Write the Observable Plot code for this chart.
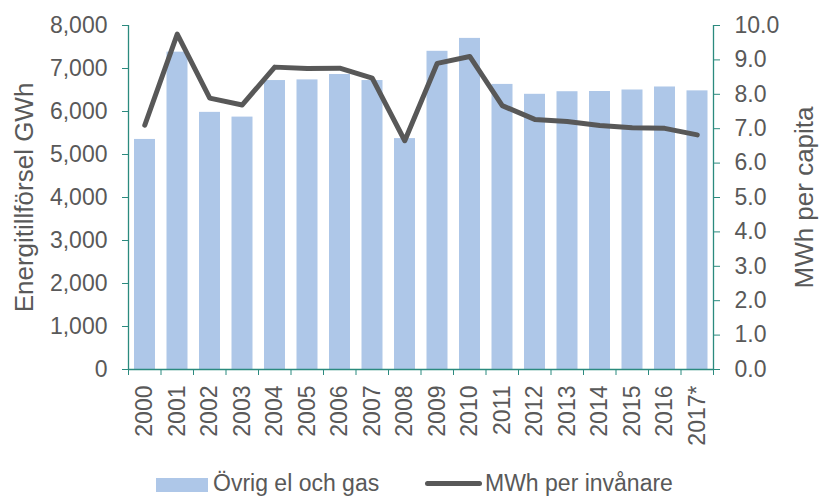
<!DOCTYPE html>
<html>
<head>
<meta charset="utf-8">
<script src="https://cdn.jsdelivr.net/npm/d3@7"></script>
<script src="https://cdn.jsdelivr.net/npm/@observablehq/plot@0.6"></script>
<style>
  html, body { margin: 0; padding: 0; background: #fff; overflow: hidden; }
  #wrap { position: relative; width: 823px; height: 496px; font-family: "Liberation Sans", Arial, sans-serif; color: #595959; }
  #chart svg { display: block; }
  .leg { position: absolute; font-size: 23px; line-height: 23px; white-space: nowrap; }
  .sw { position: absolute; }
</style>
</head>
<body>
<div id="wrap">
  <div id="chart"></div>
  <div class="sw" id="sw1" style="left:156px; top:478px; width:52px; height:14px; background:#aec7e8;"></div>
  <div class="leg" id="lg1" style="left:213px; top:472px;"></div>
  <div class="sw" id="sw2" style="left:425px; top:481px; width:57px; height:5px; background:#585858; border-radius:3px;"></div>
  <div class="leg" id="lg2" style="left:485px; top:472px;"></div>
</div>
<script>
const years = ["2000","2001","2002","2003","2004","2005","2006","2007","2008","2009","2010","2011","2012","2013","2014","2015","2016","2017*"];
const gwh = [5350, 7380, 5980, 5870, 6720, 6735, 6860, 6720, 5370, 7400, 7700, 6630, 6400, 6460, 6465, 6500, 6570, 6480];
const mwh = [7.10, 9.75, 7.89, 7.69, 8.79, 8.75, 8.76, 8.47, 6.65, 8.90, 9.10, 7.67, 7.27, 7.21, 7.09, 7.03, 7.01, 6.82];
const leftTicks = [0, 1000, 2000, 3000, 4000, 5000, 6000, 7000, 8000];
const rightTicks = [0, 1, 2, 3, 4, 5, 6, 7, 8, 9, 10];
const seriesNames = ["Övrig el och gas", "MWh per invånare"];
const axisTitles = ["Energitillförsel GWh", "MWh per capita"];

const ratio = 800; // 10.0 MWh on right axis == 8000 GWh on left axis
const data = years.map((y, i) => ({i, year: y, gwh: gwh[i], mwh: mwh[i]}));
const teal = "#2b8a7e";
const grey = "#595959";

const chart = Plot.plot({
  width: 823,
  height: 462,
  marginLeft: 128,
  marginRight: 110,
  marginTop: 25,
  marginBottom: 93,
  x: {domain: [0, years.length]},
  y: {domain: [0, 8000]},
  style: {fontFamily: "'Liberation Sans', Arial, sans-serif", color: grey, background: "white"},
  marks: [
    Plot.rect(data, {x1: d => d.i, x2: d => d.i + 1, y1: () => 0, y2: "gwh", fill: "#aec7e8", insetLeft: 6, insetRight: 5.5}),
    Plot.ruleX([0, years.length], {stroke: teal, strokeWidth: 1.3}),
    Plot.ruleY([0], {stroke: teal, strokeWidth: 1.5}),
    Plot.axisY(leftTicks, {anchor: "left", tickSize: 6, tickPadding: 15, stroke: teal, fill: grey, fontSize: 23, tickFormat: d3.format(","), label: null}),
    Plot.axisY(rightTicks.map(v => v * ratio), {anchor: "right", tickSize: 6, tickPadding: 15, stroke: teal, fill: grey, fontSize: 23, tickFormat: d => (d / ratio).toFixed(1), label: null}),
    Plot.axisX(d3.range(0, years.length + 1), {tickSize: 6, stroke: teal, tickFormat: () => "", label: null}),
    Plot.axisX(d3.range(years.length).map(i => i + 0.5), {tickSize: 0, tickPadding: 16, tickRotate: -90, fill: grey, fontSize: 23, tickFormat: d => years[Math.floor(d)], label: null}),
    Plot.line(data, {x: d => d.i + 0.5, y: d => d.mwh * ratio, stroke: "#585858", strokeWidth: 5, strokeLinejoin: "round", strokeLinecap: "round"}),
    Plot.text([axisTitles[0]], {frameAnchor: "left", textAnchor: "middle", rotate: -90, dx: -104, fontSize: 26, fill: grey}),
    Plot.text([axisTitles[1]], {frameAnchor: "right", textAnchor: "middle", rotate: -90, dx: 91, fontSize: 26, fill: grey})
  ]
});
document.getElementById("chart").appendChild(chart);
document.getElementById("lg1").textContent = seriesNames[0];
document.getElementById("lg2").textContent = seriesNames[1];
</script>
</body>
</html>
